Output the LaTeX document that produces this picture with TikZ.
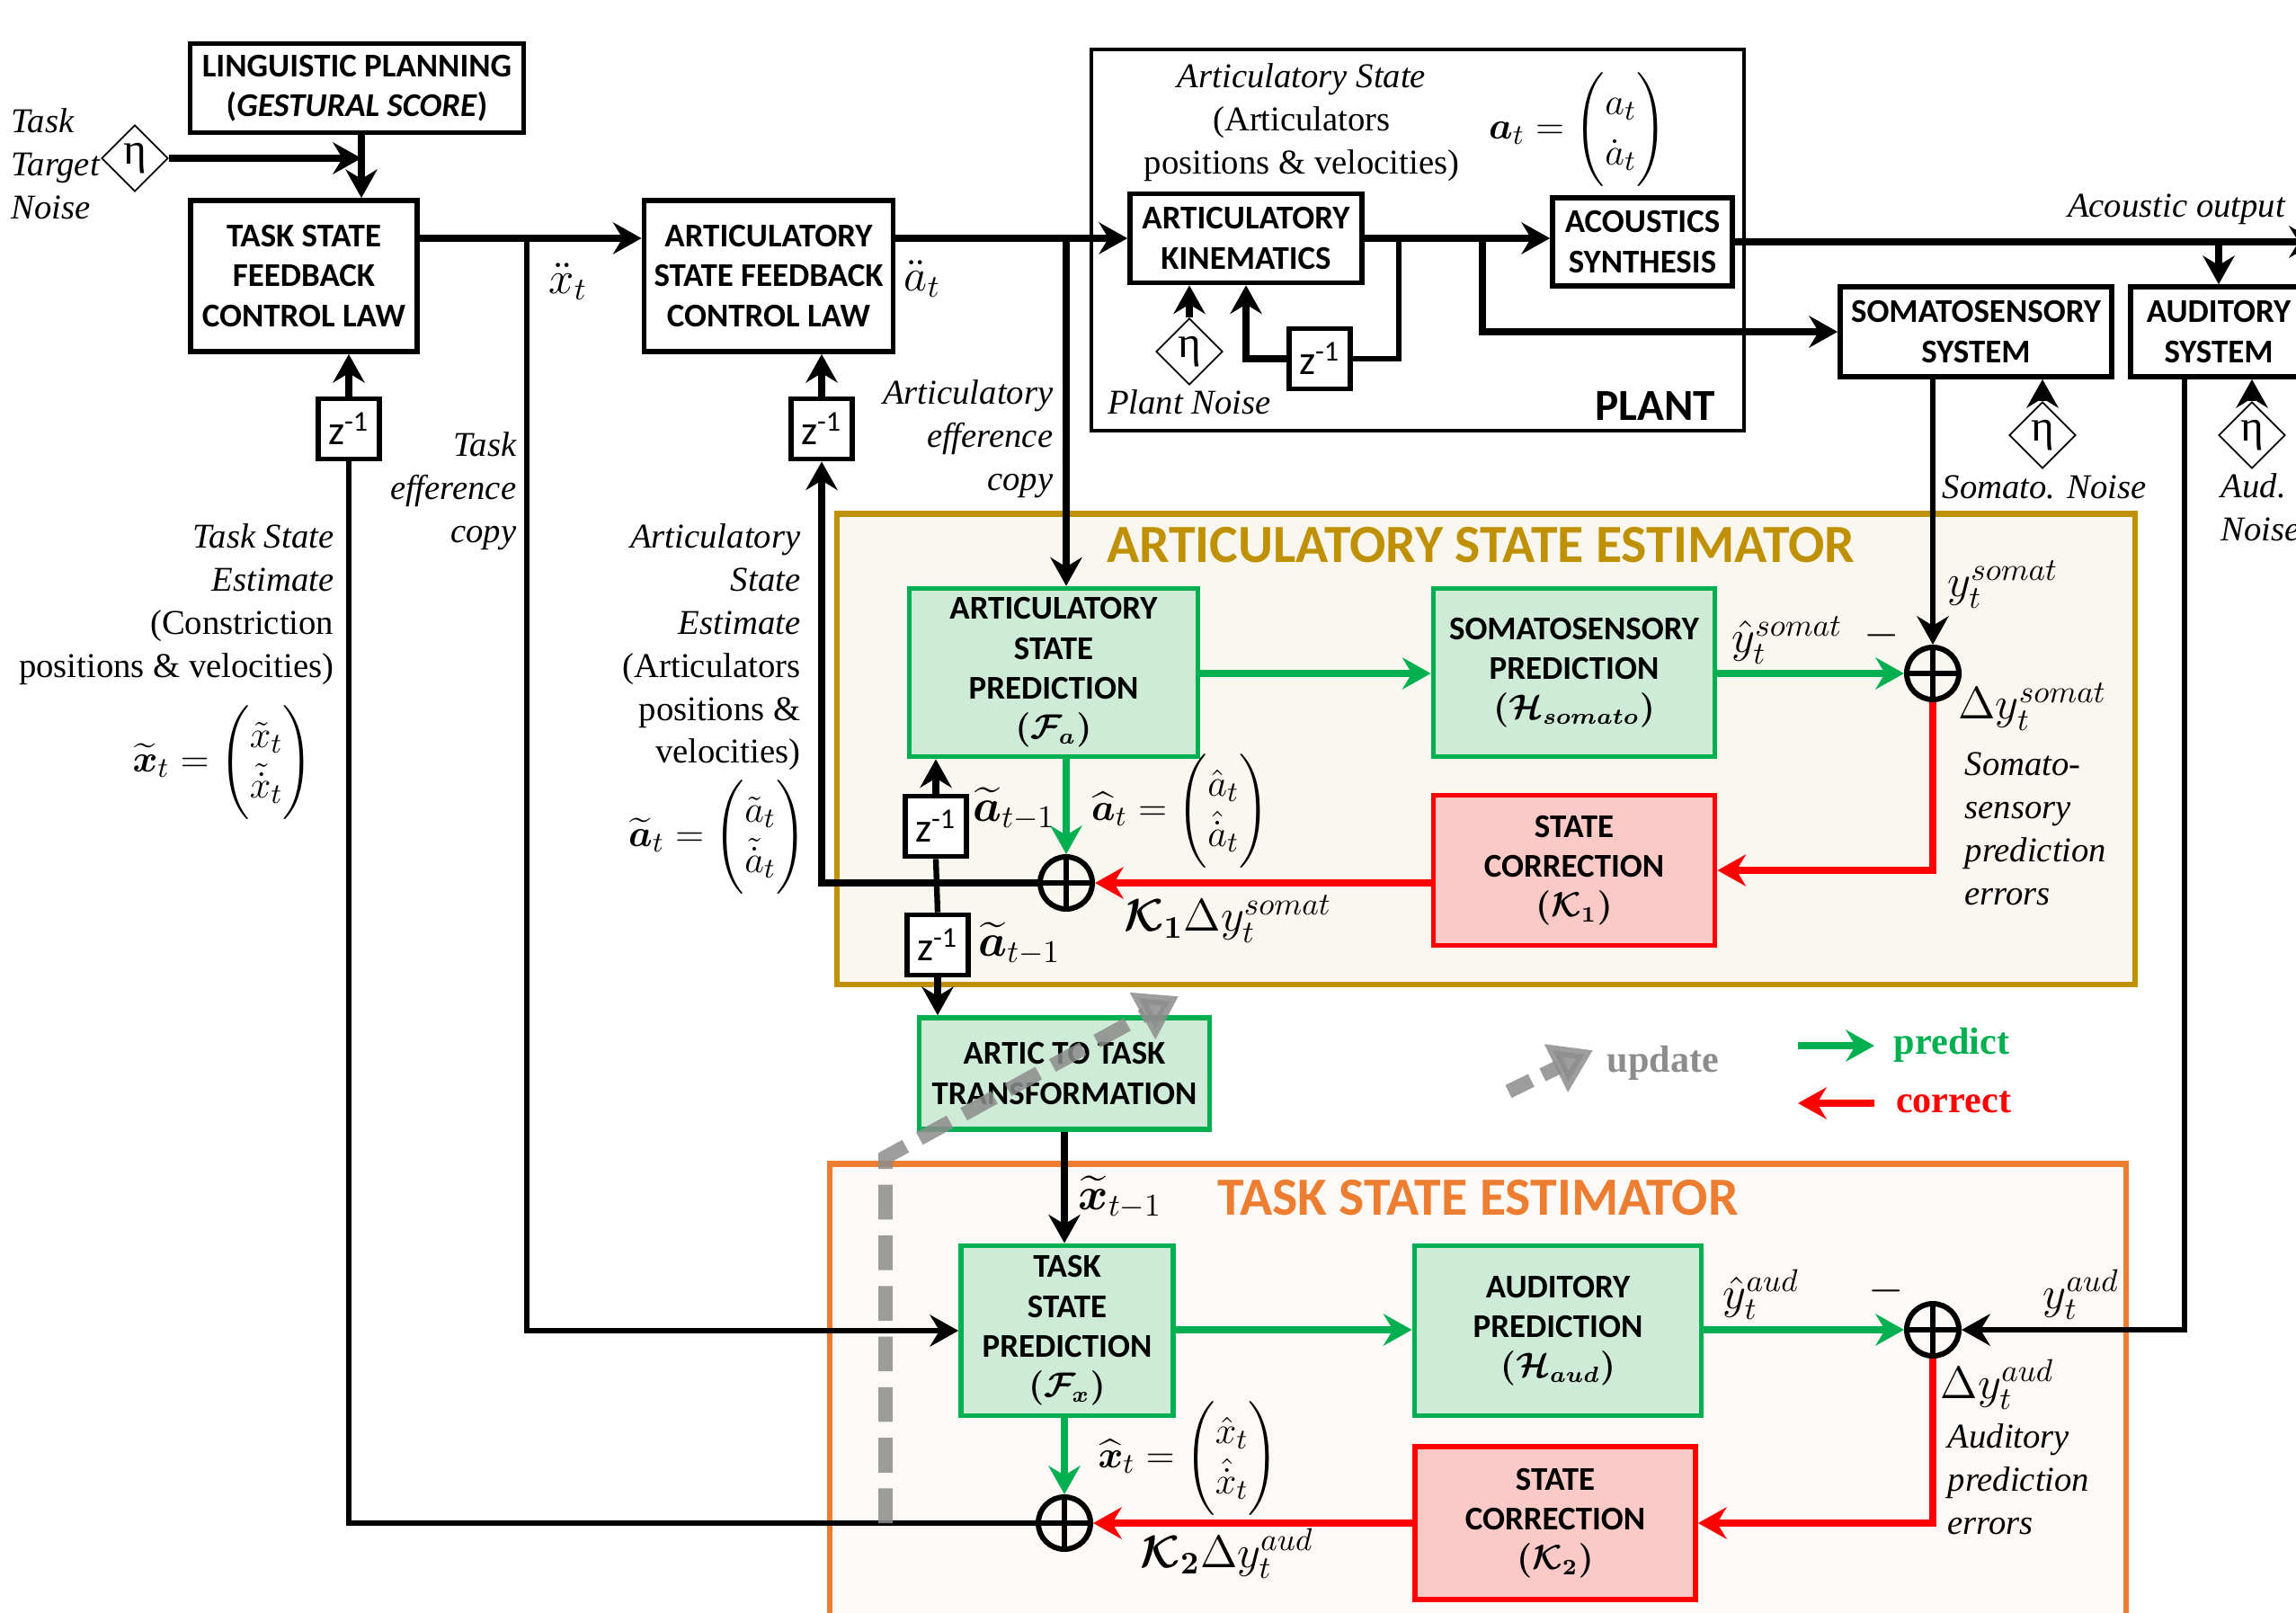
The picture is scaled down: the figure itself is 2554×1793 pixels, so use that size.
\documentclass[tikz,border=0pt]{standalone}
\usepackage{amsmath}
\usepackage{fontspec}
\setmainfont{Liberation Serif}
\newfontfamily\calibri{Carlito}
\usetikzlibrary{arrows.meta,shapes.geometric}

\definecolor{predgreen}{HTML}{00B050}
\definecolor{predfill}{HTML}{CDEBD7}
\definecolor{corrred}{HTML}{FF0000}
\definecolor{corrfill}{HTML}{FBCAC6}
\definecolor{asegold}{HTML}{BF9000}
\definecolor{asefill}{HTML}{FAF7F0}
\definecolor{tseorange}{HTML}{ED7D31}
\definecolor{tsefill}{HTML}{FCF9F6}
\definecolor{updgray}{HTML}{8C8C8C}

\newcommand\blockfont{\calibri\bfseries\fontsize{10.5}{12.6}\selectfont}
\newcommand\notefont{\fontsize{11}{13.6}\selectfont}
\newcommand\mathfont{\fontsize{14}{16}\selectfont}

\tikzset{
    >={Stealth[length=9pt,width=10pt,inset=3pt]},
    block/.style = {
        draw,
        line width=1.6pt,
        fill=white,
        align=center,
        inner sep=2pt,
        font=\blockfont\boldmath
    },
    predblock/.style = {
        block,
        draw=predgreen,
        fill=predfill
    },
    corrblock/.style = {
        block,
        draw=corrred,
        fill=corrfill
    },
    delay/.style = {
        draw,
        line width=1.6pt,
        fill=white,
        inner sep=0pt,
        minimum width=0.68cm,
        minimum height=0.67cm,
        font=\calibri\fontsize{13}{14}\selectfont
    },
    noise/.style = {
        diamond,
        draw,
        line width=0.5pt,
        fill=white,
        inner sep=0pt,
        minimum width=0.74cm,
        minimum height=0.74cm,
        font=\fontsize{14}{14}\selectfont
    },
    summer/.style = {
        circle,
        draw,
        line width=1.7pt,
        inner sep=0pt,
        minimum size=0.58cm,
        path picture={
            \draw[line width=1.5pt]
                (path picture bounding box.north) -- (path picture bounding box.south)
                (path picture bounding box.west) -- (path picture bounding box.east);
        }
    },
    sig/.style = {
        line width=2.3pt,
        ->
    },
    fbline/.style = {
        line width=1.8pt
    },
    predarrow/.style = {
        draw=predgreen,
        line width=2.5pt,
        ->
    },
    corrarrow/.style = {
        draw=corrred,
        line width=2.5pt,
        ->
    },
    updline/.style = {
        draw=updgray,
        opacity=0.85,
        line width=4.5pt,
        dash pattern=on 11pt off 5pt,
        -{Triangle[length=13pt,width=16pt]}
    },
    note/.style = {
        font=\notefont,
        inner sep=0pt
    },
    mlabel/.style = {
        font=\mathfont,
        inner sep=0pt
    },
    formula/.style = {
        font=\fontsize{13}{16}\selectfont,
        inner sep=0pt
    },
    esttitle/.style = {
        font=\calibri\bfseries\fontsize{17}{19}\selectfont
    },
    legend/.style = {
        font=\bfseries\fontsize{12}{14}\selectfont
    }
}

\begin{document}
\begin{tikzpicture}[x=0.01cm,y=-0.01cm]
    \useasboundingbox (0,0) rectangle (2554,1793);
    \clip (0,0) rectangle (2554,1793);

    % Draw estimator frames
    \node[draw=asegold, fill=asefill, line width=1.8pt, minimum width=14.43cm, minimum height=5.23cm] (ase) at (1653,833) {};
    \node[esttitle, text=asegold] (asetitle) at (1647,606) {ARTICULATORY STATE ESTIMATOR};
    \node[draw=tseorange, fill=tsefill, line width=1.8pt, minimum width=14.41cm, minimum height=5.55cm] (tse) at (1644,1572) {};
    \node[esttitle, text=tseorange] (tsetitle) at (1644,1332) {TASK STATE ESTIMATOR};

    % Draw plant frame
    \node[draw, line width=1.2pt, minimum width=7.26cm, minimum height=4.24cm] (plant) at (1577,267) {};
    \node[font=\calibri\bfseries\fontsize{14}{16}\selectfont] (plantlbl) at (1841,452) {PLANT};

    % Draw controller and plant blocks
    \node[block, minimum width=3.71cm, minimum height=0.99cm] (ling) at (397,98) {LINGUISTIC PLANNING\\(\textit{GESTURAL SCORE})};
    \node[block, minimum width=2.52cm, minimum height=1.68cm] (taskfb) at (338,307) {TASK STATE\\FEEDBACK\\CONTROL LAW};
    \node[block, minimum width=2.77cm, minimum height=1.68cm] (articfb) at (855,307) {ARTICULATORY\\STATE FEEDBACK\\CONTROL LAW};
    \node[block, minimum width=2.58cm, minimum height=0.99cm] (kin) at (1386,265) {ARTICULATORY\\KINEMATICS};
    \node[block, minimum width=2.00cm, minimum height=0.98cm] (acou) at (1827,269) {ACOUSTICS\\SYNTHESIS};
    \node[block, minimum width=3.02cm, minimum height=1.00cm] (somsys) at (2198,369) {SOMATOSENSORY\\SYSTEM};
    \node[block, minimum width=1.96cm, minimum height=1.00cm] (audsys) at (2468,369) {AUDITORY\\SYSTEM};

    % Draw estimator blocks
    \node[predblock, minimum width=3.21cm, minimum height=1.87cm] (asp) at (1172,748) {ARTICULATORY\\STATE\\PREDICTION\\$(\mathcal{F}_a)$};
    \node[predblock, minimum width=3.13cm, minimum height=1.87cm] (sp) at (1751,748) {SOMATOSENSORY\\PREDICTION\\$(\mathcal{H}_{somato})$};
    \node[corrblock, minimum width=3.13cm, minimum height=1.67cm] (sc1) at (1751,968) {STATE\\CORRECTION\\$(\mathcal{K}_1)$};
    \node[predblock, minimum width=3.23cm, minimum height=1.24cm] (att) at (1184,1194) {ARTIC TO TASK\\TRANSFORMATION};
    \node[predblock, minimum width=2.36cm, minimum height=1.89cm] (tsp) at (1187,1480) {TASK\\STATE\\PREDICTION\\$(\mathcal{F}_x)$};
    \node[predblock, minimum width=3.19cm, minimum height=1.89cm] (ap) at (1733,1480) {AUDITORY\\PREDICTION\\$(\mathcal{H}_{aud})$};
    \node[corrblock, minimum width=3.12cm, minimum height=1.70cm] (sc2) at (1730,1694) {STATE\\CORRECTION\\$(\mathcal{K}_2)$};

    % Draw delays, sums and noise sources
    \node[delay] (z1) at (388,477) {z\textsuperscript{-1}};
    \node[delay] (z2) at (914,477) {z\textsuperscript{-1}};
    \node[delay] (z3) at (1468,399) {z\textsuperscript{-1}};
    \node[delay] (za) at (1041,919) {z\textsuperscript{-1}};
    \node[delay] (zb) at (1043,1051) {z\textsuperscript{-1}};
    \node[summer] (sum1) at (1186,982) {};
    \node[summer] (sums) at (2150,749) {};
    \node[summer] (sum2) at (1184,1694) {};
    \node[summer] (suma) at (2150,1479) {};
    \node[noise] (tnoise) at (150,176) {η};
    \node[noise] (pnoise) at (1323,391) {η};
    \node[noise] (snoise) at (2272,484) {η};
    \node[noise] (anoise) at (2505,484) {η};

    % Branch points
    \coordinate (jl) at (402,176);
    \coordinate (xbr) at (586,265);
    \coordinate (abr) at (1186,265);
    \coordinate (pbr) at (1556,265);
    \coordinate (sbr) at (1649,265);
    \coordinate (obr) at (2468,269);
    \coordinate (out) at (2578,269);
    \coordinate (adr) at (2430,419);

    % Draw forward path
    \draw[sig] (tnoise.east) -- (jl);
    \draw[sig] (ling.south -| jl) -- (taskfb.north -| jl);
    \draw[sig] (taskfb.east |- kin) -- (articfb.west |- kin);
    \draw[sig] (articfb.east |- kin) -- (kin.west);
    \draw[sig] (kin.east) -- (acou.west |- kin.east);
    \draw[sig] (acou.east) -- (out);
    \draw[sig] (obr) -- (audsys.north -| obr);
    \draw[sig] (sbr) |- (somsys.west);
    \draw[fbline] (pbr) |- (z3.east);
    \draw[sig] (z3.west) -| (kin.south);
    \draw[sig] (pnoise.north) -- (pnoise.north |- kin.south);
    \draw[sig] (snoise.north) -- (snoise.north |- somsys.south);
    \draw[sig] (anoise.north) -- (anoise.north |- audsys.south);

    % Draw efference copies and feedback
    \draw[fbline, ->] (xbr) |- (tsp.west);
    \draw[sig] (abr) -- (asp.north -| abr);
    \draw[fbline, ->] (somsys.south -| sums) -- (sums.north);
    \draw[fbline, ->] (adr) |- (suma.east);
    \draw[sig] (sum1.west) -| (z2.south);
    \draw[sig] (z2.north) -- (articfb.south -| z2);
    \draw[fbline] (sum2.west) -| (z1.south);
    \draw[sig] (z1.north) -- (taskfb.south -| z1);
    \draw[sig] (za.north) -- (asp.south -| za);
    \draw[fbline] (za.south) -- (zb.north);
    \draw[sig] (zb.south) -- (att.north -| zb);
    \draw[sig] (att.south) -- (tsp.north -| att.south);

    % Draw predictions
    \draw[predarrow] (asp.east |- sums) -- (sp.west |- sums);
    \draw[predarrow] (sp.east |- sums) -- (sums.west);
    \draw[predarrow] (asp.south -| sum1) -- (sum1.north);
    \draw[predarrow] (tsp.east |- suma) -- (ap.west |- suma);
    \draw[predarrow] (ap.east |- suma) -- (suma.west);
    \draw[predarrow] (tsp.south -| sum2) -- (sum2.north);

    % Draw corrections
    \draw[corrarrow] (sums.south) |- (sc1.east);
    \draw[corrarrow] (sc1.west |- sum1) -- (sum1.east);
    \draw[corrarrow] (suma.south) |- (sc2.east);
    \draw[corrarrow] (sc2.west |- sum2) -- (sum2.east);

    % Draw update path
    \coordinate (upds) at (985,1694);
    \coordinate (updk) at (985,1287);
    \coordinate (upde) at (1311,1108);
    \draw[updline] (upds) -- (updk) -- (upde);

    % Draw labels
    \node[note, align=left, anchor=west] (tnlbl) at (12,182) {\itshape Task\\\itshape Target\\\itshape Noise};
    \node[mlabel] (xdd) at (632,313) {$\ddot{x}_t$};
    \node[mlabel] (add) at (1026,310) {$\ddot{a}_t$};
    \node[note, align=right, anchor=east] (teff) at (575,546) {\itshape Task\\\itshape efference\\\itshape copy};
    \node[note, align=right, anchor=east] (aeff) at (1172,488) {\itshape Articulatory\\\itshape efference\\\itshape copy};
    \node[note, align=right, anchor=east] (test) at (372,672) {\itshape Task State\\\itshape Estimate\\(Constriction\\positions \& velocities)};
    \node[note, align=right, anchor=east] (aest) at (891,720) {\itshape Articulatory\\\itshape State\\\itshape Estimate\\(Articulators\\positions \&\\velocities)};
    \node[formula] (xform) at (248,848) {$\widetilde{\boldsymbol{x}}_t = \begin{pmatrix}\tilde{x}_t\\ \tilde{\dot{x}}_t\end{pmatrix}$};
    \node[formula] (aform) at (798,931) {$\widetilde{\boldsymbol{a}}_t = \begin{pmatrix}\tilde{a}_t\\ \tilde{\dot{a}}_t\end{pmatrix}$};
    \node[note, align=center] (pstate) at (1448,136) {\itshape Articulatory State\\(Articulators\\positions \& velocities)};
    \node[formula] (pform) at (1755,144) {$\boldsymbol{a}_t = \begin{pmatrix}a_t\\ \dot{a}_t\end{pmatrix}$};
    \node[note] (pnlbl) at (1323,447) {\itshape Plant Noise};
    \node[note] (aclbl) at (2421,233) {\itshape Acoustic output};
    \node[note] (snlbl) at (2274,542) {\itshape Somato. Noise};
    \node[note, align=left, anchor=west] (anlbl) at (2470,564) {\itshape Aud.\\\itshape Noise};

    \node[mlabel] (ysom) at (2228,650) {$y_t^{somat}$};
    \node[mlabel] (yhsom) at (1988,712) {$\hat{y}_t^{somat}$};
    \node[mlabel] (msom) at (2093,707) {$-$};
    \node[mlabel] (dysom) at (2261,786) {$\Delta y_t^{somat}$};
    \node[note, align=left, anchor=west] (serr) at (2185,922) {\itshape Somato-\\\itshape sensory\\\itshape prediction\\\itshape errors};
    \node[mlabel] (atm1) at (1128,900) {$\widetilde{\boldsymbol{a}}_{t-1}$};
    \node[formula] (ahat) at (1313,902) {$\widehat{\boldsymbol{a}}_t = \begin{pmatrix}\hat{a}_t\\ \hat{\dot{a}}_t\end{pmatrix}$};
    \node[mlabel] (kdy1) at (1366,1022) {$\boldsymbol{\mathcal{K}_1}\Delta y_t^{somat}$};
    \node[mlabel] (atm2) at (1134,1050) {$\widetilde{\boldsymbol{a}}_{t-1}$};
    \node[mlabel] (xtm1) at (1246,1332) {$\widetilde{\boldsymbol{x}}_{t-1}$};

    \node[mlabel] (yhaud) at (1959,1440) {$\hat{y}_t^{aud}$};
    \node[mlabel] (maud) at (2098,1436) {$-$};
    \node[mlabel] (yaud) at (2315,1440) {$y_t^{aud}$};
    \node[mlabel] (dyaud) at (2222,1540) {$\Delta y_t^{aud}$};
    \node[note, align=left, anchor=west] (aerr) at (2166,1645) {\itshape Auditory\\\itshape prediction\\\itshape errors};
    \node[formula] (xhat) at (1322,1622) {$\widehat{\boldsymbol{x}}_t = \begin{pmatrix}\hat{x}_t\\ \hat{\dot{x}}_t\end{pmatrix}$};
    \node[mlabel] (kdy2) at (1365,1728) {$\boldsymbol{\mathcal{K}_2}\Delta y_t^{aud}$};

    % Draw legend
    \coordinate (upda) at (1678,1214);
    \coordinate (updb) at (1772,1168);
    \draw[updline, dash pattern=on 8pt off 4pt] (upda) -- (updb);
    \node[legend, text=updgray] (updlbl) at (1850,1182) {update};
    \coordinate (preda) at (2000,1163);
    \coordinate (predb) at (2085,1163);
    \draw[predarrow] (preda) -- (predb);
    \node[legend, text=predgreen] (predlbl) at (2171,1162) {predict};
    \coordinate (corra) at (2085,1227);
    \coordinate (corrb) at (2000,1227);
    \draw[corrarrow] (corra) -- (corrb);
    \node[legend, text=corrred] (corrlbl) at (2173,1226) {correct};
\end{tikzpicture}
\end{document}
